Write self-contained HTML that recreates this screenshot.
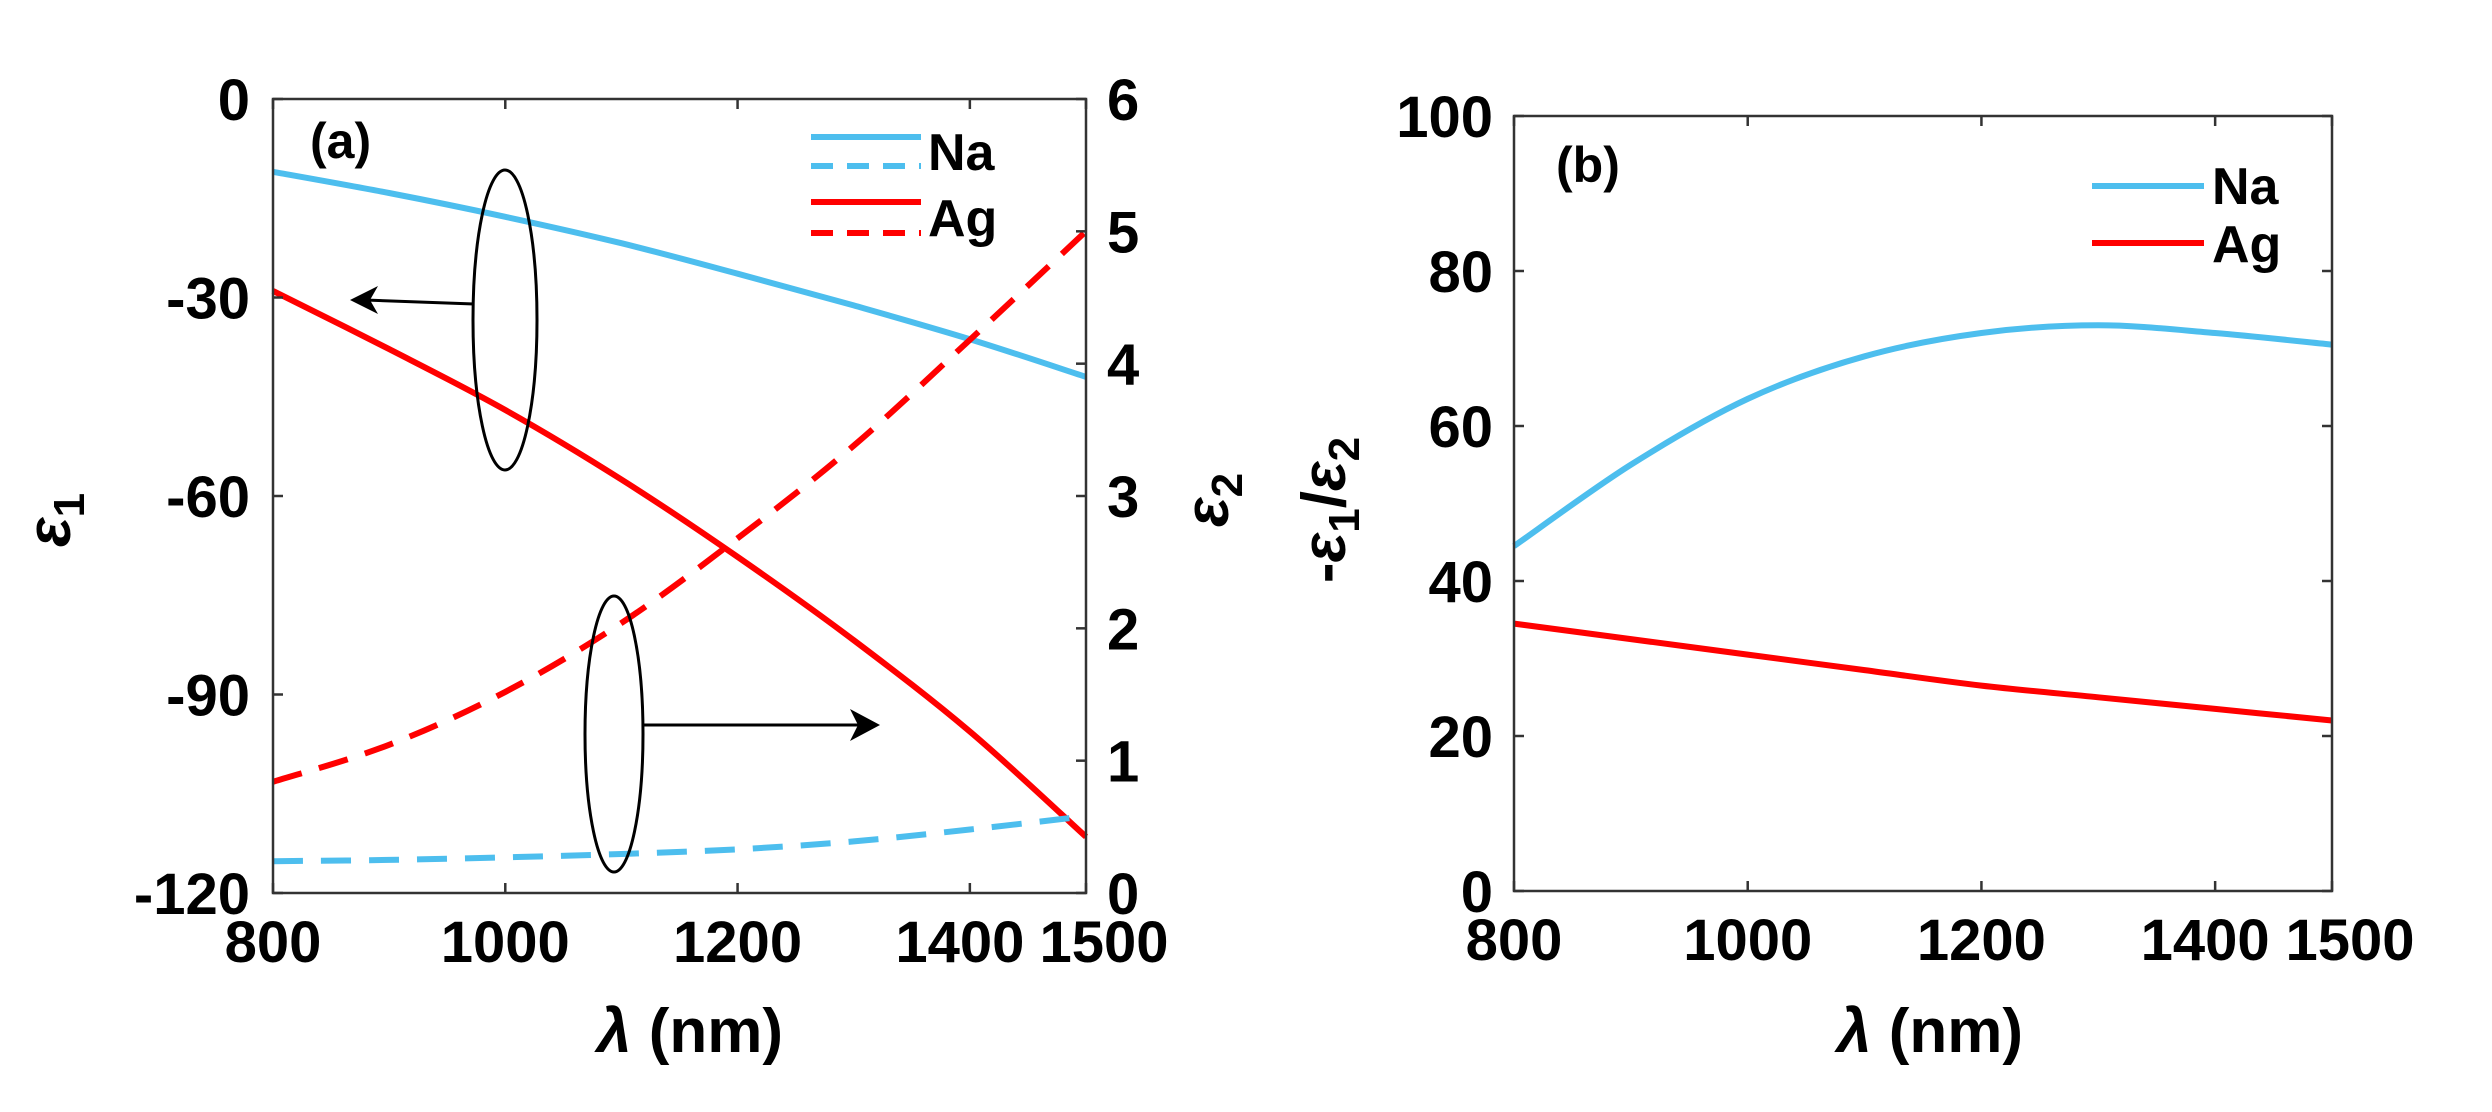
<!DOCTYPE html>
<html><head><meta charset="utf-8"><style>
html,body{margin:0;padding:0;background:#fff;}
svg{display:block;font-family:"Liberation Sans",Arial,sans-serif;font-weight:bold;}
</style></head><body>
<svg id="chart" width="2492" height="1112" viewBox="0 0 2492 1112" xmlns="http://www.w3.org/2000/svg">
<g id="pa"></g>
<g id="pb"></g>
</svg>
<script>
const wavelengths = [800, 900, 1000, 1100, 1200, 1300, 1400, 1500];
const naEps1 = [-11, -14.2, -17.8, -21.8, -26.4, -31.2, -36.3, -42];
const agEps1 = [-29, -37.8, -47, -57.5, -69.2, -81.8, -95.6, -111.5];
const naEps2 = [0.24, 0.25, 0.27, 0.295, 0.33, 0.39, 0.48, 0.58];
const agEps2 = [0.84, 1.12, 1.52, 2.04, 2.68, 3.38, 4.18, 5.0];
const naRatio = [44.5, 55, 63.5, 69, 72, 73, 72, 70.5];
const agRatio = [34.5, 32.5, 30.5, 28.5, 26.5, 25, 23.5, 22];
const xTicks = [800, 1000, 1200, 1400, 1500];
const eps1Ticks = [0, -30, -60, -90, -120];
const eps2Ticks = [0, 1, 2, 3, 4, 5, 6];
const ratioTicks = [0, 20, 40, 60, 80, 100];

const NS = "http://www.w3.org/2000/svg";
const BLUE = "#4DBEEE", RED = "#FF0000";
function mk(parent, tag, attrs, text) {
  const e = document.createElementNS(NS, tag);
  for (const k in attrs) e.setAttribute(k, attrs[k]);
  if (text !== undefined) e.textContent = text;
  parent.appendChild(e);
  return e;
}
function lin(d0, d1, r0, r1) { return v => r0 + (v - d0) / (d1 - d0) * (r1 - r0); }
function pathD(xs, ys, sx, sy) {
  const p = xs.map((v, i) => [sx(v), sy(ys[i])]);
  let d = "M" + p[0][0].toFixed(1) + " " + p[0][1].toFixed(1);
  for (let i = 0; i < p.length - 1; i++) {
    const p0 = p[Math.max(0, i - 1)], p1 = p[i], p2 = p[i + 1], p3 = p[Math.min(p.length - 1, i + 2)];
    const c1 = [p1[0] + (p2[0] - p0[0]) / 6, p1[1] + (p2[1] - p0[1]) / 6];
    const c2 = [p2[0] - (p3[0] - p1[0]) / 6, p2[1] - (p3[1] - p1[1]) / 6];
    d += " C" + c1[0].toFixed(1) + " " + c1[1].toFixed(1) + " " + c2[0].toFixed(1) + " " + c2[1].toFixed(1) + " " + p2[0].toFixed(1) + " " + p2[1].toFixed(1);
  }
  return d;
}

// Panel A
const pa = document.getElementById("pa");
const A = {l: 273, r: 1086, t: 99, b: 893};
const ax = lin(800, 1500, A.l, A.r);
const ay1 = lin(0, -120, A.t, A.b);
const ay2 = lin(0, 6, A.b, A.t);
let ln;
ln = mk(pa, "path", {d: pathD(wavelengths, naEps1, ax, ay1), fill: "none", stroke: BLUE, "stroke-width": 6});
 
ln = mk(pa, "path", {d: pathD(wavelengths, agEps1, ax, ay1), fill: "none", stroke: RED, "stroke-width": 6});
 
ln = mk(pa, "path", {d: pathD(wavelengths, naEps2, ax, ay2), fill: "none", stroke: BLUE, "stroke-width": 6, "stroke-dasharray": "30 18"});
 
ln = mk(pa, "path", {d: pathD(wavelengths, agEps2, ax, ay2), fill: "none", stroke: RED, "stroke-width": 6, "stroke-dasharray": "30 18"});
 

let e;
e = mk(pa, "rect", {x: A.l, y: A.t, width: A.r - A.l, height: A.b - A.t, fill: "none", stroke: "#333", "stroke-width": 2.5});
 
xTicks.forEach(v => {
  mk(pa, "line", {x1: ax(v), x2: ax(v), y1: A.b, y2: A.b - 10, stroke: "#333", "stroke-width": 2.5});
  mk(pa, "line", {x1: ax(v), x2: ax(v), y1: A.t, y2: A.t + 10, stroke: "#333", "stroke-width": 2.5});
  const t = mk(pa, "text", {x: ax(v) + (v === 1400 ? -10 : v === 1500 ? 18 : 0), y: 962, "text-anchor": "middle", "font-size": 58}, String(v));
   
});
eps1Ticks.forEach(v => {
  mk(pa, "line", {x1: A.l, x2: A.l + 10, y1: ay1(v), y2: ay1(v), stroke: "#333", "stroke-width": 2.5});
  const t = mk(pa, "text", {x: 250, y: ay1(v) + 21, "text-anchor": "end", "font-size": 58}, v < 0 ? "-" + Math.abs(v) : String(v));
   
});
eps2Ticks.forEach(v => {
  mk(pa, "line", {x1: A.r, x2: A.r - 10, y1: ay2(v), y2: ay2(v), stroke: "#333", "stroke-width": 2.5});
  const t = mk(pa, "text", {x: 1107, y: ay2(v) + 21, "text-anchor": "start", "font-size": 58}, String(v));
   
});
e = mk(pa, "text", {x: 310, y: 158, "font-size": 50}, "(a)");
 
e = mk(pa, "text", {x: 690, y: 1052, "text-anchor": "middle", "font-size": 62}, "");
e.innerHTML = '<tspan font-style="italic">λ</tspan> (nm)';
 
e = mk(pa, "text", {transform: "translate(70,520) rotate(-90)", "text-anchor": "middle", "font-size": 62}, "");
e.innerHTML = '<tspan font-style="italic">ε</tspan><tspan font-size="44" dy="14">1</tspan>';
 
e = mk(pa, "text", {transform: "translate(1228,500) rotate(-90)", "text-anchor": "middle", "font-size": 62}, "");
e.innerHTML = '<tspan font-style="italic">ε</tspan><tspan font-size="44" dy="14">2</tspan>';
 
// annotations
e = mk(pa, "ellipse", {cx: 505, cy: 320, rx: 32, ry: 150, fill: "none", stroke: "#000", "stroke-width": 3});
 
mk(pa, "line", {x1: 474, y1: 304, x2: 365, y2: 300, stroke: "#000", "stroke-width": 3});
mk(pa, "path", {d: "M350 300 L378 286 L370 300 L378 314 Z", fill: "#000"});
e = mk(pa, "ellipse", {cx: 614, cy: 734, rx: 29, ry: 138, fill: "none", stroke: "#000", "stroke-width": 3});
 
mk(pa, "line", {x1: 643, y1: 725, x2: 865, y2: 725, stroke: "#000", "stroke-width": 3});
mk(pa, "path", {d: "M880 725 L850 709 L858 725 L850 741 Z", fill: "#000"});
// legend a
const legA = [["Na", BLUE, 137, null], ["", BLUE, 166, "22 14"], ["Ag", RED, 202, null], ["", RED, 233, "22 14"]];
legA.forEach(([lab, c, y, dash]) => {
  const l = mk(pa, "line", {x1: 811, x2: 921, y1: y, y2: y, stroke: c, "stroke-width": 6});
  if (dash) l.setAttribute("stroke-dasharray", dash);
   
});
e = mk(pa, "text", {x: 928, y: 170, "font-size": 52}, "Na");
 
e = mk(pa, "text", {x: 928, y: 236, "font-size": 52}, "Ag");
 

// Panel B
const pb = document.getElementById("pb");
const B = {l: 1514, r: 2332, t: 116, b: 891};
const bx = lin(800, 1500, B.l, B.r);
const by = lin(0, 100, B.b, B.t);
ln = mk(pb, "path", {d: pathD(wavelengths, naRatio, bx, by), fill: "none", stroke: BLUE, "stroke-width": 6});
 
ln = mk(pb, "path", {d: pathD(wavelengths, agRatio, bx, by), fill: "none", stroke: RED, "stroke-width": 6});
 
e = mk(pb, "rect", {x: B.l, y: B.t, width: B.r - B.l, height: B.b - B.t, fill: "none", stroke: "#333", "stroke-width": 2.5});
 
xTicks.forEach(v => {
  mk(pb, "line", {x1: bx(v), x2: bx(v), y1: B.b, y2: B.b - 10, stroke: "#333", "stroke-width": 2.5});
  mk(pb, "line", {x1: bx(v), x2: bx(v), y1: B.t, y2: B.t + 10, stroke: "#333", "stroke-width": 2.5});
  const t = mk(pb, "text", {x: bx(v) + (v === 1400 ? -10 : v === 1500 ? 18 : 0), y: 960, "text-anchor": "middle", "font-size": 58}, String(v));
   
});
ratioTicks.forEach(v => {
  mk(pb, "line", {x1: B.l, x2: B.l + 10, y1: by(v), y2: by(v), stroke: "#333", "stroke-width": 2.5});
  mk(pb, "line", {x1: B.r, x2: B.r - 10, y1: by(v), y2: by(v), stroke: "#333", "stroke-width": 2.5});
  const t = mk(pb, "text", {x: 1493, y: by(v) + 21, "text-anchor": "end", "font-size": 58}, String(v));
   
});
e = mk(pb, "text", {x: 1556, y: 182, "font-size": 50}, "(b)");
 
e = mk(pb, "text", {x: 1930, y: 1052, "text-anchor": "middle", "font-size": 62}, "");
e.innerHTML = '<tspan font-style="italic">λ</tspan> (nm)';
 
e = mk(pb, "text", {transform: "translate(1345,510) rotate(-90)", "text-anchor": "middle", "font-size": 62}, "");
e.innerHTML = '-<tspan font-style="italic">ε</tspan><tspan font-size="44" dy="14">1</tspan><tspan dy="-14">/</tspan><tspan font-style="italic">ε</tspan><tspan font-size="44" dy="14">2</tspan>';
 
e = mk(pb, "line", {x1: 2092, x2: 2204, y1: 186, y2: 186, stroke: BLUE, "stroke-width": 6});
 
e = mk(pb, "line", {x1: 2092, x2: 2204, y1: 243, y2: 243, stroke: RED, "stroke-width": 6});
 
e = mk(pb, "text", {x: 2212, y: 204, "font-size": 52}, "Na");
 
e = mk(pb, "text", {x: 2212, y: 262, "font-size": 52}, "Ag");
 
</script>
</body></html>
